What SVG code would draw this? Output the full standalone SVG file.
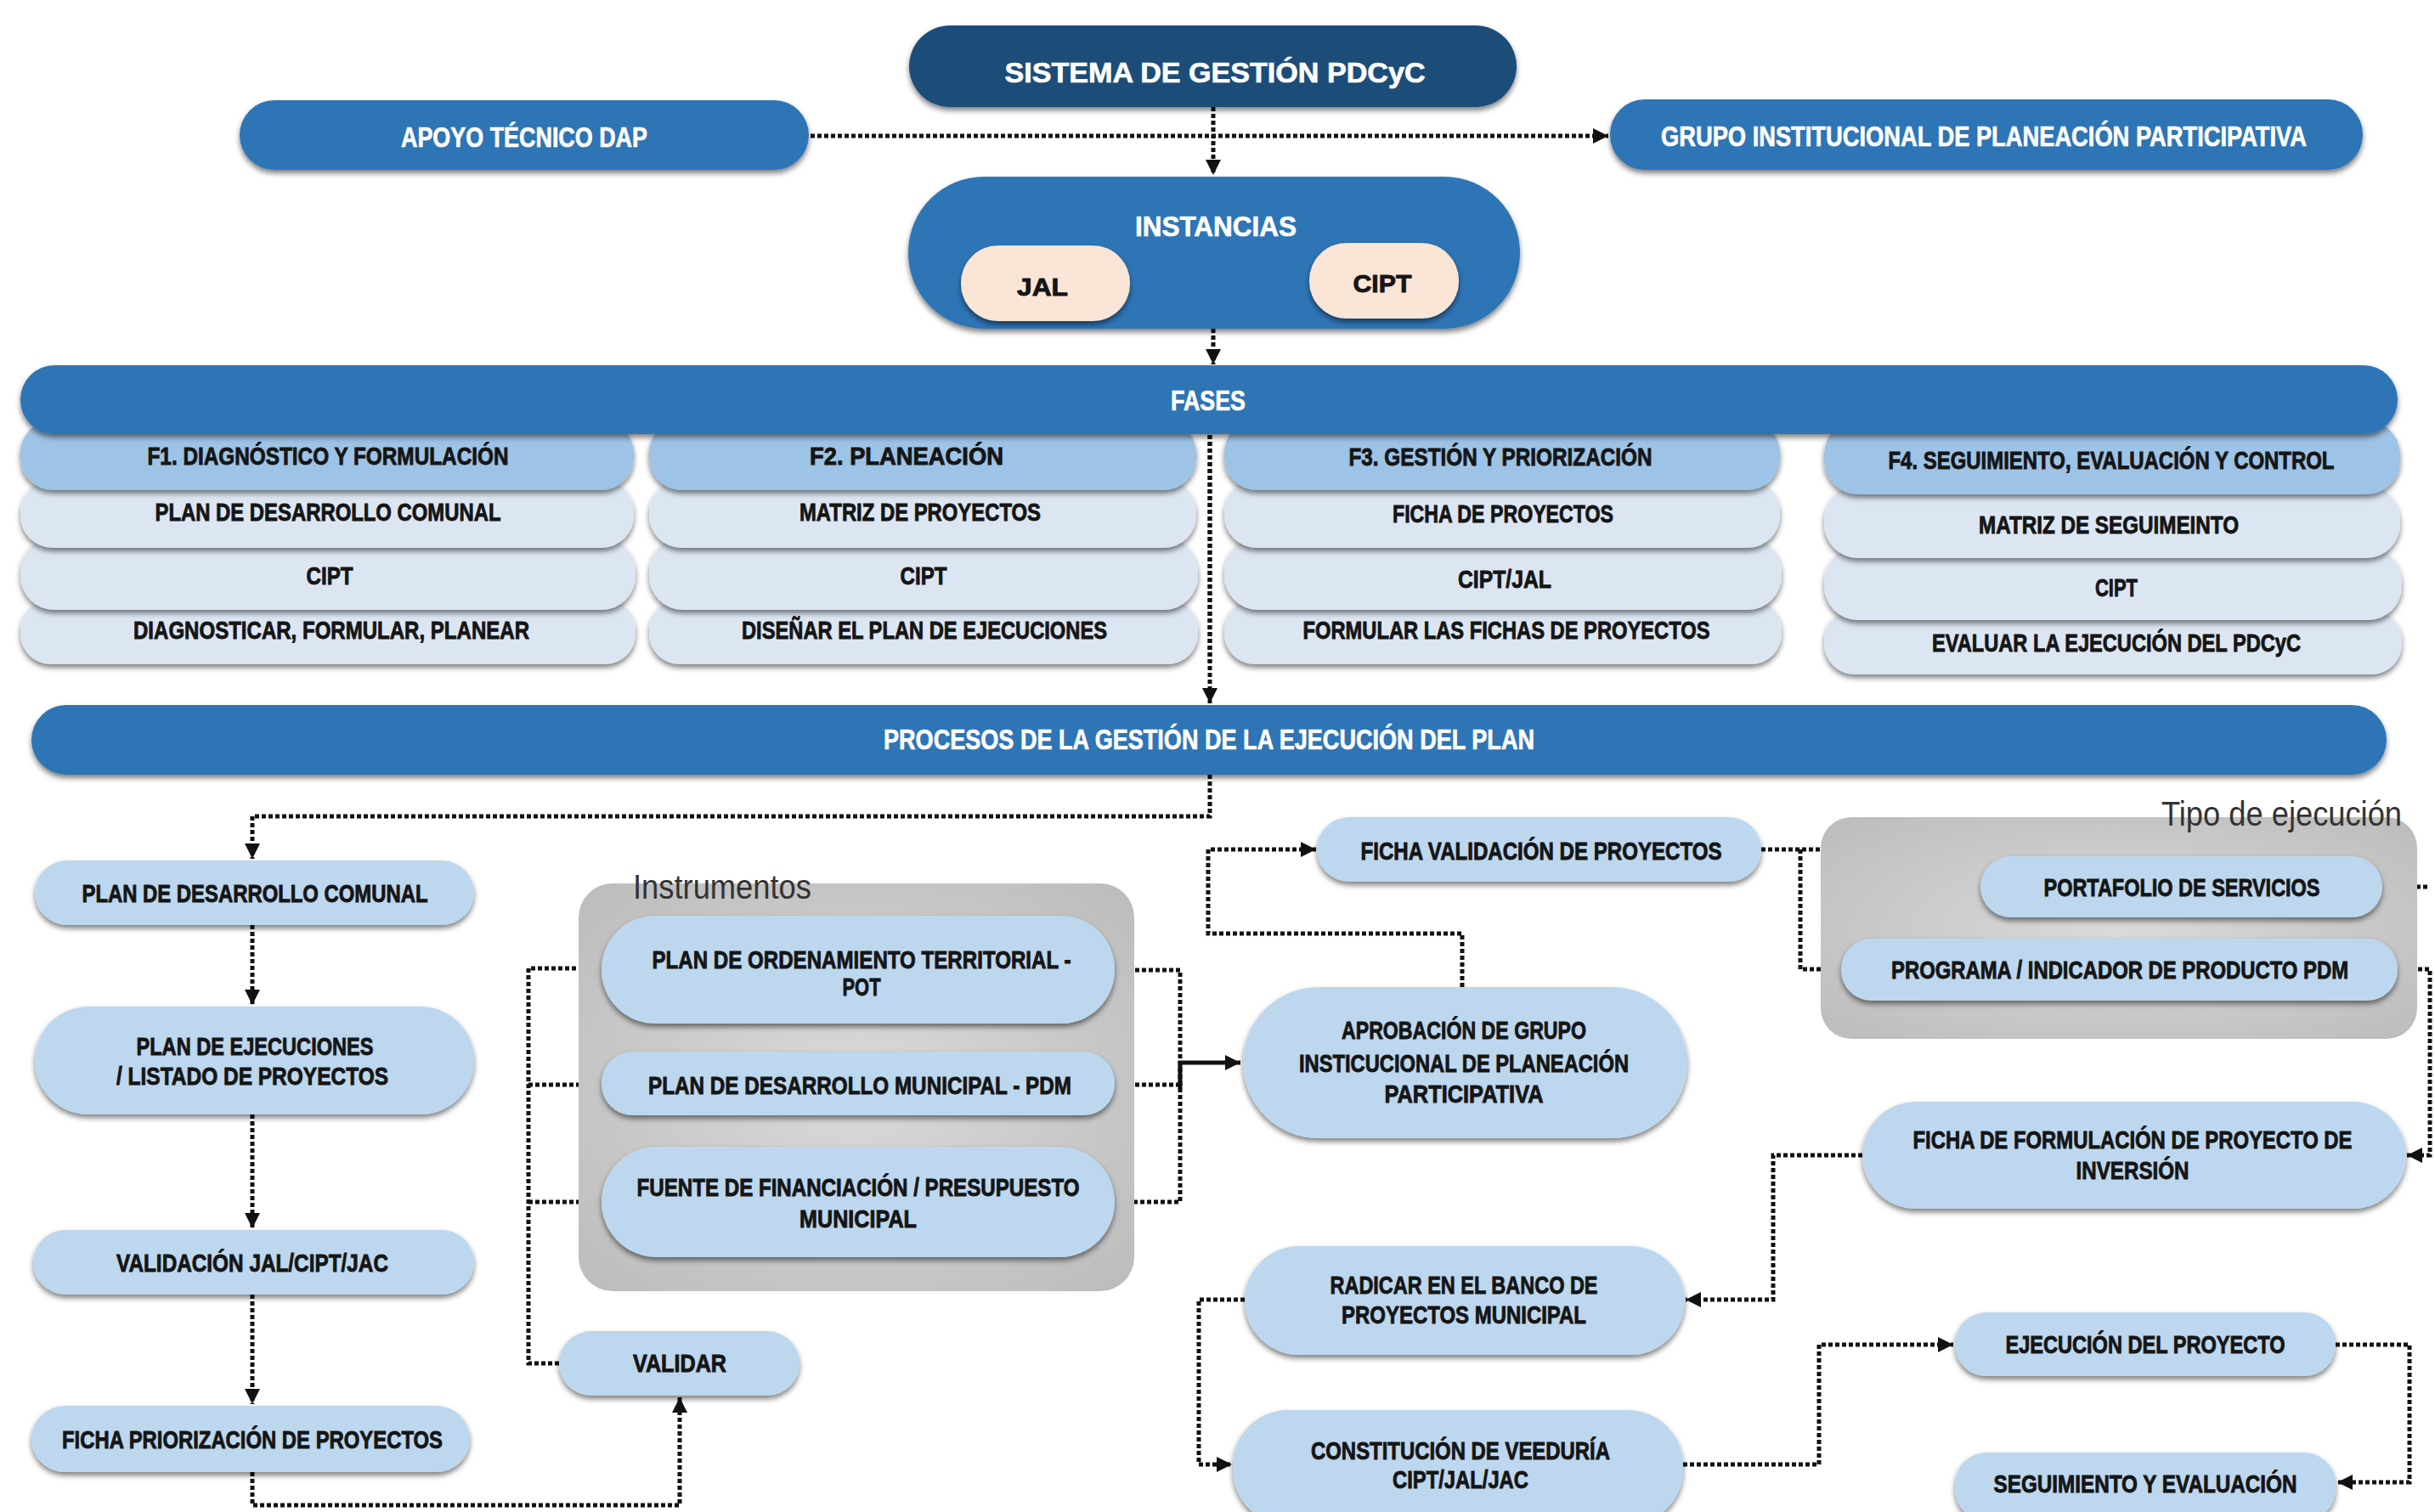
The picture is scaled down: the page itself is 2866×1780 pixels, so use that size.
<svg xmlns="http://www.w3.org/2000/svg" width="2866" height="1780" viewBox="0 0 2866 1780">
<defs>
<style>
.t{font-family:"Liberation Sans Narrow","Liberation Sans",Arial,sans-serif;font-weight:bold;fill:#151515;stroke:#151515;stroke-width:0.9px;text-anchor:middle;font-size:30px}
.tw{font-family:"Liberation Sans Narrow","Liberation Sans",Arial,sans-serif;font-weight:bold;fill:#ffffff;stroke:#ffffff;stroke-width:0.7px;text-anchor:middle;font-size:34px}
.lbl{font-family:"Liberation Sans Narrow","Liberation Sans",Arial,sans-serif;fill:#333333;font-size:40px}
.dk{fill:#1f4e79}
.md{fill:#2e75b6}
.hd{fill:#9dc3e6}
.rw{fill:#dce6f2}
.pn{fill:#bdd7ee}
.pc{fill:#fbe5d6}
.sh{filter:url(#ds)}
.c{fill:none;stroke:#111;stroke-width:5;stroke-dasharray:5 3}
.ca{marker-end:url(#ah)}
</style>
<filter id="ds" x="-10%" y="-20%" width="120%" height="150%">
<feDropShadow dx="0" dy="4" stdDeviation="3" flood-color="#000" flood-opacity="0.5"/>
</filter>
<radialGradient id="gg" cx="50%" cy="50%" r="70%">
<stop offset="0" stop-color="#dadada"/>
<stop offset="1" stop-color="#bcbcbc"/>
</radialGradient>
<marker id="ah" viewBox="0 0 10 10" refX="10" refY="5" markerWidth="19" markerHeight="18" markerUnits="userSpaceOnUse" orient="auto">
<path d="M0,0 L10,5 L0,10 z" fill="#111"/>
</marker>
</defs>
<rect width="2866" height="1780" fill="#ffffff"/>

<g id="connectors">
<path class="c ca" d="M954 160 H1893"/>
<path class="c ca" d="M1428 126 V206"/>
<path class="c ca" d="M1428 387 V429"/>
<path class="c ca" d="M1424 512 V828"/>
<path class="c ca" d="M1424 912 V961 H297 V1011"/>
<path class="c ca" d="M297 1089 V1183"/>
<path class="c ca" d="M297 1312 V1446"/>
<path class="c ca" d="M297 1524 V1653"/>
<path class="c ca" d="M297 1733 V1772 H800 V1645"/>
<path class="c ca" d="M658 1605 H622 V1140 H706"/>
<path class="c ca" d="M622 1277 H706"/>
<path class="c ca" d="M622 1415 H706"/>
<path class="c" d="M1312 1142 H1389 V1415 H1312"/>
<path class="c" d="M1312 1277 H1389"/>
<path d="M1389 1282 V1251 H1460" fill="none" stroke="#111" stroke-width="5" marker-end="url(#ah)"/>
<path class="c ca" d="M1721 1162 V1099 H1422 V1000 H1549"/>
<path class="c ca" d="M2073 1000 H2201 V1044 H2330"/>
<path class="c ca" d="M2119 1000 V1141 H2166"/>
<path class="c" d="M2804 1044 H2860"/>
<path class="c ca" d="M2822 1141 H2860 V1360 H2833"/>
<path class="c ca" d="M2192 1360 H2087 V1530 H1984"/>
<path class="c ca" d="M1465 1530 H1411 V1724 H1450"/>
<path class="c ca" d="M1981 1724 H2141 V1583 H2299"/>
<path class="c ca" d="M2749 1583 H2836 V1745 H2751"/>
</g>

<g id="title"><rect class="dk sh" x="1070" y="30" width="715" height="96" rx="48"/><text class="tw" x="1430" y="97" font-size="38" textLength="495" lengthAdjust="spacingAndGlyphs">SISTEMA DE GESTIÓN PDCyC</text></g>
<g id="apoyo"><rect class="md sh" x="282" y="118" width="670" height="82" rx="41"/><text class="tw" x="617" y="173" textLength="290" lengthAdjust="spacingAndGlyphs">APOYO TÉCNICO DAP</text></g>
<g id="grupo"><rect class="md sh" x="1895" y="117" width="886" height="83" rx="41"/><text class="tw" x="2335" y="172" font-size="31" textLength="760" lengthAdjust="spacingAndGlyphs">GRUPO INSTITUCIONAL DE PLANEACIÓN PARTICIPATIVA</text></g>
<g id="instancias"><rect class="md sh" x="1069" y="208" width="720" height="179" rx="89"/><text class="tw" x="1431" y="278" font-size="31" textLength="190" lengthAdjust="spacingAndGlyphs">INSTANCIAS</text>
<g id="jal"><rect class="pc sh" x="1131" y="289" width="199" height="89" rx="44"/><text class="t" x="1227" y="348" font-size="33" textLength="60" lengthAdjust="spacingAndGlyphs">JAL</text></g>
<g id="cipt"><rect class="pc sh" x="1541" y="286" width="176" height="89" rx="44"/><text class="t" x="1627" y="344" font-size="33" textLength="69" lengthAdjust="spacingAndGlyphs">CIPT</text></g>
</g>

<g id="col1">
<g id="c1r4"><rect class="rw sh" x="24" y="706" width="724" height="76" rx="36"/><text class="t" x="390" y="752" font-size="28" textLength="466" lengthAdjust="spacingAndGlyphs">DIAGNOSTICAR, FORMULAR, PLANEAR</text></g>
<g id="c1r3"><rect class="rw sh" x="24" y="633" width="724" height="85" rx="40"/><text class="t" x="388" y="688" font-size="28" textLength="55" lengthAdjust="spacingAndGlyphs">CIPT</text></g>
<g id="c1r2"><rect class="rw sh" x="24" y="565" width="722" height="80" rx="38"/><text class="t" x="386" y="613" font-size="28" textLength="407" lengthAdjust="spacingAndGlyphs">PLAN DE DESARROLLO COMUNAL</text></g>
<g id="c1r1"><rect class="hd sh" x="24" y="495" width="722" height="82" rx="38"/><text class="t" x="386" y="547" font-size="28" textLength="425" lengthAdjust="spacingAndGlyphs">F1. DIAGNÓSTICO Y FORMULACIÓN</text></g>
</g>
<g id="col2">
<g id="c2r4"><rect class="rw sh" x="764" y="706" width="646" height="76" rx="36"/><text class="t" x="1088" y="752" font-size="28" textLength="430" lengthAdjust="spacingAndGlyphs">DISEÑAR EL PLAN DE EJECUCIONES</text></g>
<g id="c2r3"><rect class="rw sh" x="764" y="633" width="646" height="85" rx="40"/><text class="t" x="1087" y="688" font-size="28" textLength="55" lengthAdjust="spacingAndGlyphs">CIPT</text></g>
<g id="c2r2"><rect class="rw sh" x="764" y="565" width="644" height="80" rx="38"/><text class="t" x="1083" y="613" font-size="28" textLength="284" lengthAdjust="spacingAndGlyphs">MATRIZ DE PROYECTOS</text></g>
<g id="c2r1"><rect class="hd sh" x="764" y="495" width="644" height="82" rx="38"/><text class="t" x="1067" y="547" font-size="28" textLength="228" lengthAdjust="spacingAndGlyphs">F2. PLANEACIÓN</text></g>
</g>
<g id="col3">
<g id="c3r4"><rect class="rw sh" x="1441" y="706" width="656" height="76" rx="36"/><text class="t" x="1773" y="752" font-size="28" textLength="479" lengthAdjust="spacingAndGlyphs">FORMULAR LAS FICHAS DE PROYECTOS</text></g>
<g id="c3r3"><rect class="rw sh" x="1441" y="633" width="656" height="85" rx="40"/><text class="t" x="1771" y="692" font-size="28" textLength="110" lengthAdjust="spacingAndGlyphs">CIPT/JAL</text></g>
<g id="c3r2"><rect class="rw sh" x="1441" y="565" width="654" height="80" rx="38"/><text class="t" x="1769" y="615" font-size="28" textLength="260" lengthAdjust="spacingAndGlyphs">FICHA DE PROYECTOS</text></g>
<g id="c3r1"><rect class="hd sh" x="1441" y="495" width="654" height="82" rx="38"/><text class="t" x="1766" y="548" font-size="28" textLength="357" lengthAdjust="spacingAndGlyphs">F3. GESTIÓN Y PRIORIZACIÓN</text></g>
</g>
<g id="col4">
<g id="c4r4"><rect class="rw sh" x="2147" y="718" width="680" height="76" rx="36"/><text class="t" x="2491" y="767" font-size="28" textLength="434" lengthAdjust="spacingAndGlyphs">EVALUAR LA EJECUCIÓN DEL PDCyC</text></g>
<g id="c4r3"><rect class="rw sh" x="2147" y="645" width="680" height="85" rx="40"/><text class="t" x="2491" y="702" font-size="28" textLength="50" lengthAdjust="spacingAndGlyphs">CIPT</text></g>
<g id="c4r2"><rect class="rw sh" x="2147" y="572" width="678" height="85" rx="40"/><text class="t" x="2482" y="628" font-size="28" textLength="306" lengthAdjust="spacingAndGlyphs">MATRIZ DE SEGUIMEINTO</text></g>
<g id="c4r1"><rect class="hd sh" x="2147" y="495" width="678" height="87" rx="40"/><text class="t" x="2485" y="552" font-size="26" textLength="525" lengthAdjust="spacingAndGlyphs">F4. SEGUIMIENTO, EVALUACIÓN Y CONTROL</text></g>
</g>
<g id="fases"><rect class="md sh" x="24" y="430" width="2798" height="81" rx="40"/><text class="tw" x="1422" y="483" font-size="30" textLength="88" lengthAdjust="spacingAndGlyphs">FASES</text></g>
<path class="c" d="M1424 512 V780"/>

<g id="procesos"><rect class="md sh" x="37" y="830" width="2772" height="82" rx="41"/><text class="tw" x="1423" y="882" font-size="30" textLength="766" lengthAdjust="spacingAndGlyphs">PROCESOS DE LA GESTIÓN DE LA EJECUCIÓN DEL PLAN</text></g>

<g id="pdc"><rect class="pn sh" x="41" y="1013" width="517" height="76" rx="38"/><text class="t" x="300" y="1062" textLength="407" lengthAdjust="spacingAndGlyphs">PLAN DE DESARROLLO COMUNAL</text></g>
<g id="planejec"><rect class="pn sh" x="41" y="1185" width="517" height="127" rx="63"/><text class="t" x="300" y="1242" textLength="279" lengthAdjust="spacingAndGlyphs">PLAN DE EJECUCIONES</text><text class="t" x="297" y="1277" textLength="320" lengthAdjust="spacingAndGlyphs">/ LISTADO DE PROYECTOS</text></g>
<g id="validacion"><rect class="pn sh" x="39" y="1448" width="519" height="76" rx="38"/><text class="t" x="297" y="1497" textLength="320" lengthAdjust="spacingAndGlyphs">VALIDACIÓN JAL/CIPT/JAC</text></g>
<g id="fichaprior"><rect class="pn sh" x="37" y="1655" width="516" height="78" rx="39"/><text class="t" x="297" y="1705" textLength="448" lengthAdjust="spacingAndGlyphs">FICHA PRIORIZACIÓN DE PROYECTOS</text></g>
<g id="validar"><rect class="pn sh" x="658" y="1567" width="283" height="76" rx="38"/><text class="t" x="800" y="1615" textLength="110" lengthAdjust="spacingAndGlyphs">VALIDAR</text></g>

<g id="instrumentos">
<rect x="681" y="1040" width="654" height="480" rx="40" fill="url(#gg)"/>
<text class="lbl" x="745" y="1058" textLength="210" lengthAdjust="spacingAndGlyphs">Instrumentos</text>
<g id="pot"><rect class="pn sh" x="708" y="1078" width="604" height="127" rx="63"/><text class="t" x="1014" y="1140" textLength="493" lengthAdjust="spacingAndGlyphs">PLAN DE ORDENAMIENTO TERRITORIAL -</text><text class="t" x="1014" y="1172" textLength="45" lengthAdjust="spacingAndGlyphs">POT</text></g>
<g id="pdm"><rect class="pn sh" x="708" y="1238" width="604" height="75" rx="37"/><text class="t" x="1012" y="1288" textLength="498" lengthAdjust="spacingAndGlyphs">PLAN DE DESARROLLO MUNICIPAL - PDM</text></g>
<g id="fuente"><rect class="pn sh" x="708" y="1350" width="604" height="130" rx="65"/><text class="t" x="1010" y="1408" textLength="521" lengthAdjust="spacingAndGlyphs">FUENTE DE FINANCIACIÓN / PRESUPUESTO</text><text class="t" x="1010" y="1445" textLength="138" lengthAdjust="spacingAndGlyphs">MUNICIPAL</text></g>
</g>

<g id="aprobacion"><rect class="pn sh" x="1463" y="1162" width="523" height="178" rx="89"/><text class="t" x="1723" y="1223" textLength="288" lengthAdjust="spacingAndGlyphs">APROBACIÓN DE GRUPO</text><text class="t" x="1723" y="1262" textLength="388" lengthAdjust="spacingAndGlyphs">INSTICUCIONAL DE PLANEACIÓN</text><text class="t" x="1723" y="1298" textLength="187" lengthAdjust="spacingAndGlyphs">PARTICIPATIVA</text></g>
<g id="fichaval"><rect class="pn sh" x="1550" y="962" width="523" height="76" rx="38"/><text class="t" x="1814" y="1012" textLength="425" lengthAdjust="spacingAndGlyphs">FICHA VALIDACIÓN DE PROYECTOS</text></g>

<g id="tipo">
<rect x="2143" y="962" width="702" height="261" rx="36" fill="url(#gg)"/>
<text class="lbl" x="2827" y="972" text-anchor="end" textLength="283" lengthAdjust="spacingAndGlyphs">Tipo de ejecución</text>
<g id="portafolio"><rect class="pn sh" x="2331" y="1008" width="473" height="72" rx="36"/><text class="t" x="2568" y="1055" textLength="325" lengthAdjust="spacingAndGlyphs">PORTAFOLIO DE SERVICIOS</text></g>
<g id="programa"><rect class="pn sh" x="2167" y="1105" width="655" height="73" rx="36"/><text class="t" x="2495" y="1152" font-size="27" textLength="538" lengthAdjust="spacingAndGlyphs">PROGRAMA / INDICADOR DE PRODUCTO PDM</text></g>
</g>

<g id="fichaform"><rect class="pn sh" x="2192" y="1297" width="640" height="126" rx="63"/><text class="t" x="2510" y="1352" textLength="517" lengthAdjust="spacingAndGlyphs">FICHA DE FORMULACIÓN DE PROYECTO DE</text><text class="t" x="2510" y="1388" textLength="133" lengthAdjust="spacingAndGlyphs">INVERSIÓN</text></g>
<g id="radicar"><rect class="pn sh" x="1465" y="1467" width="518" height="128" rx="64"/><text class="t" x="1723" y="1523" textLength="315" lengthAdjust="spacingAndGlyphs">RADICAR EN EL BANCO DE</text><text class="t" x="1723" y="1558" textLength="288" lengthAdjust="spacingAndGlyphs">PROYECTOS MUNICIPAL</text></g>
<g id="constitucion"><rect class="pn sh" x="1451" y="1660" width="530" height="135" rx="65"/><text class="t" x="1719" y="1718" textLength="352" lengthAdjust="spacingAndGlyphs">CONSTITUCIÓN DE VEEDURÍA</text><text class="t" x="1719" y="1752" textLength="160" lengthAdjust="spacingAndGlyphs">CIPT/JAL/JAC</text></g>
<g id="ejecucion"><rect class="pn sh" x="2301" y="1545" width="448" height="75" rx="37"/><text class="t" x="2525" y="1593" textLength="329" lengthAdjust="spacingAndGlyphs">EJECUCIÓN DEL PROYECTO</text></g>
<g id="seguimiento"><rect class="pn sh" x="2301" y="1710" width="448" height="80" rx="37"/><text class="t" x="2525" y="1757" textLength="357" lengthAdjust="spacingAndGlyphs">SEGUIMIENTO Y EVALUACIÓN</text></g>
</svg>
